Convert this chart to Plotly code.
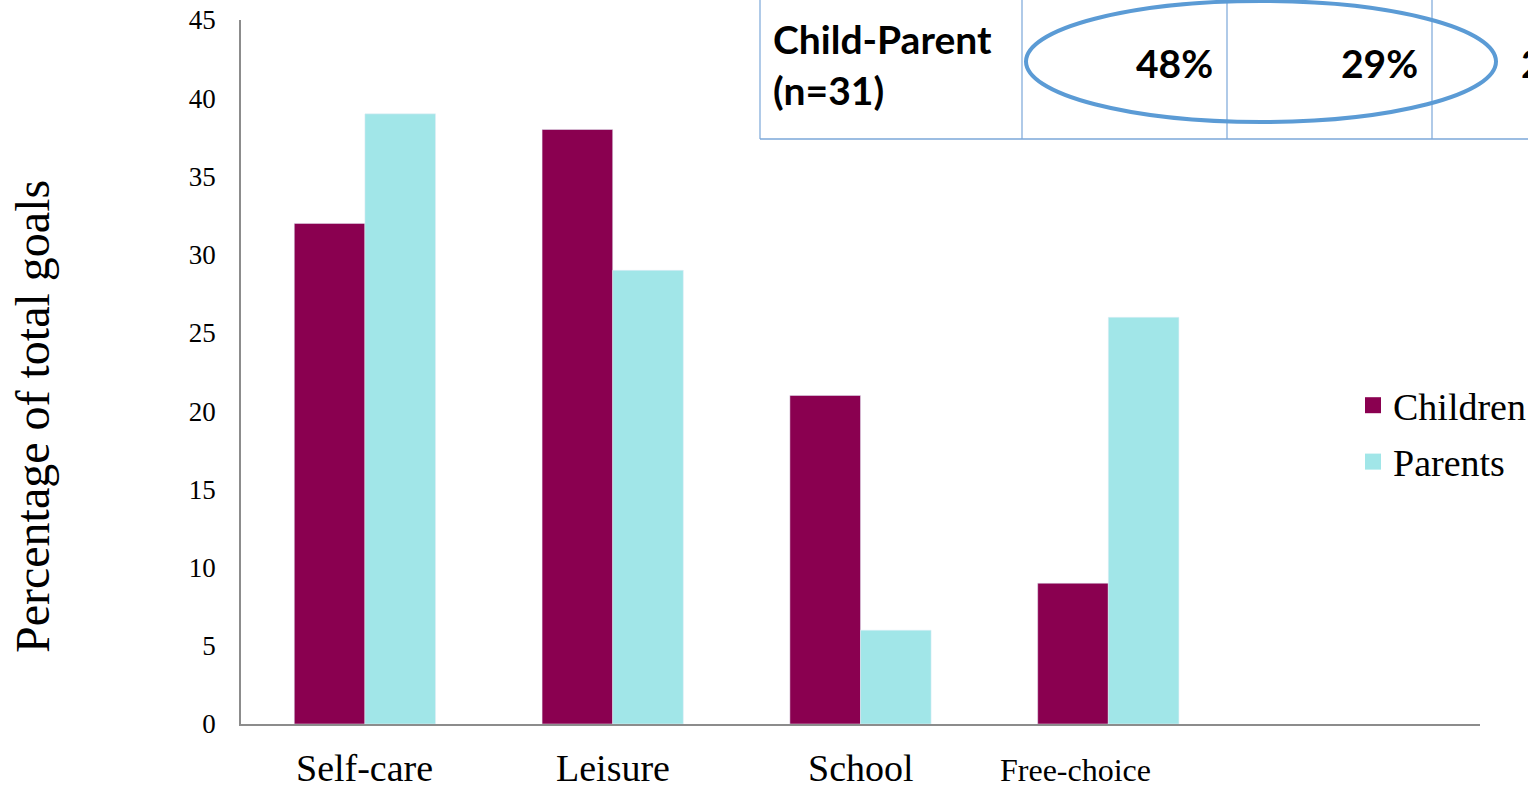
import plotly.graph_objects as go

categories = ["Self-care", "Leisure", "School", "Free-choice", " "]
children = [32, 38, 21, 9, None]
parents = [39, 29, 6, 26, None]
y_ticks = [0, 5, 10, 15, 20, 25, 30, 35, 40, 45]
table_row_label = "Child-Parent<br>(n=31)"
table_values = ["48%", "29%", "2"]

C_CHILD = "#8A0050"
C_PARENT = "#A1E6E8"
SERIF = "Liberation Serif"

W, H = 1528, 787
L, R, T, B = 241, 48, 20, 63
PW, PH = W - L - R, H - T - B

def px(x):
    return (x - L) / PW

def py(y):
    return (H - B - y) / PH

fig = go.Figure()
fig.add_trace(go.Bar(x=categories, y=children, name="Children", marker_color=C_CHILD,
                     showlegend=False))
fig.add_trace(go.Bar(x=categories, y=parents, name="Parents", marker_color=C_PARENT,
                     showlegend=False))
# legend entries
fig.add_trace(go.Scatter(x=[None], y=[None], mode="markers", name="Children",
                         marker=dict(symbol="square", size=20, color=C_CHILD),
                         legendgroup="a"))
fig.add_trace(go.Scatter(x=[None], y=[None], mode="markers", name="Parents",
                         marker=dict(symbol="square", size=20, color=C_PARENT),
                         legendgroup="b"))

fig.update_layout(
    width=W, height=H,
    margin=dict(l=L, r=R, t=T, b=B, autoexpand=False),
    plot_bgcolor="white", paper_bgcolor="white",
    barmode="group", bargap=0.43, bargroupgap=0,
    font=dict(family=SERIF, color="black"),
    showlegend=True,
    legend=dict(x=px(1353), y=py(374), xanchor="left", yanchor="top",
                font=dict(family=SERIF, size=38), tracegroupgap=4,
                bgcolor="rgba(0,0,0,0)"),
    xaxis=dict(range=[-0.5, 4.5], showticklabels=False, showline=True,
               linecolor="#8c8c8c", linewidth=1.5, ticks="", showgrid=False,
               zeroline=False),
    yaxis=dict(range=[0, 45], tickvals=y_ticks, ticks="", showline=True,
               linecolor="#8c8c8c", linewidth=1.5, showgrid=False, zeroline=False,
               tickfont=dict(family=SERIF, size=27), ticklabelstandoff=18),
)

# x category labels
for cat in categories[:3]:
    fig.add_annotation(x=cat, y=py(768), xref="x", yref="paper", text=cat,
                       showarrow=False, xanchor="center", yanchor="middle",
                       font=dict(family=SERIF, size=38))
fig.add_annotation(x=categories[3], y=py(770), xref="x", yref="paper",
                   text=categories[3], showarrow=False, xanchor="left",
                   yanchor="middle", xshift=-110,
                   font=dict(family=SERIF, size=32))

# y title
fig.add_annotation(x=px(32), y=py(416), xref="paper", yref="paper",
                   text="Percentage of total goals", textangle=-90, showarrow=False,
                   xanchor="center", yanchor="middle",
                   font=dict(family=SERIF, size=48))

# table overlay
LINE = "#7BA7D9"
fig.add_shape(type="rect", xref="paper", yref="paper", x0=px(760), x1=px(1540),
              y0=py(139), y1=py(-5), fillcolor="white", line=dict(width=0))
for xv in [760, 1022, 1227, 1432]:
    fig.add_shape(type="line", xref="paper", yref="paper", x0=px(xv), x1=px(xv),
                  y0=py(139), y1=py(-5), line=dict(color=LINE, width=1.2))
fig.add_shape(type="line", xref="paper", yref="paper", x0=px(760), x1=px(1540),
              y0=py(139), y1=py(139), line=dict(color=LINE, width=1.5))
fig.add_annotation(x=px(771), y=py(64), xref="paper", yref="paper",
                   text="<b>" + table_row_label + "</b>", showarrow=False,
                   xanchor="left", yanchor="middle", align="left",
                   font=dict(family="Lato", size=39, color="black"))
for xr, val in zip([1215, 1420], table_values[:2]):
    fig.add_annotation(x=px(xr), y=py(63), xref="paper", yref="paper",
                       text="<b>" + val + "</b>", showarrow=False,
                       xanchor="right", yanchor="middle",
                       font=dict(family="Lato", size=39, color="black"))
fig.add_annotation(x=px(1519), y=py(63), xref="paper", yref="paper",
                   text="<b>" + table_values[2] + "</b>", showarrow=False,
                   xanchor="left", yanchor="middle",
                   font=dict(family="Lato", size=39, color="black"))
fig.add_shape(type="circle", xref="paper", yref="paper", x0=px(1026), x1=px(1496),
              y0=py(122), y1=py(1), line=dict(color="#5B9BD5", width=4))

fig.write_html("out.html")
